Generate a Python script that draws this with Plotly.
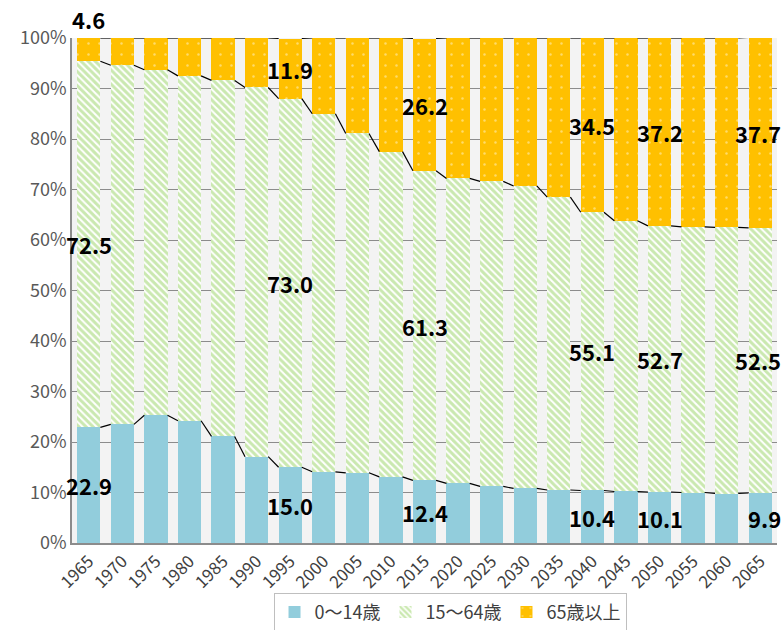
import plotly.graph_objects as go

years = ["1965", "1970", "1975", "1980", "1985", "1990", "1995", "2000", "2005", "2010",
         "2015", "2020", "2025", "2030", "2035", "2040", "2045", "2050", "2055", "2060", "2065"]
young = [22.9, 23.5, 25.3, 24.2, 21.1, 17.1, 15.0, 14.1, 13.9, 13.1,
         12.4, 11.8, 11.2, 10.8, 10.5, 10.4, 10.2, 10.1, 10.0, 9.8, 9.9]
working = [72.5, 71.1, 68.4, 68.3, 70.5, 73.1, 73.0, 70.9, 67.2, 64.4,
           61.3, 60.4, 60.4, 59.9, 58.0, 55.1, 53.6, 52.7, 52.6, 52.7, 52.5]
elderly = [4.6, 5.4, 6.3, 7.5, 8.4, 9.8, 11.9, 15.0, 18.9, 22.5,
           26.2, 27.8, 28.4, 29.3, 31.5, 34.5, 36.2, 37.2, 37.4, 37.5, 37.7]
series_names = ["0～14歳", "15～64歳", "65歳以上"]
labelled_years = ["1965", "1995", "2015", "2040", "2050", "2065"]

FONT = "Noto Sans CJK JP"
BAR_W = 0.69
xi = list(range(len(years)))

fig = go.Figure()
fig.add_trace(go.Bar(x=xi, y=young, name=series_names[0], width=BAR_W,
                     marker=dict(color="#92CDDC", line=dict(width=0))))
fig.add_trace(go.Bar(x=xi, y=working, name=series_names[1], width=BAR_W,
                     marker=dict(color="white", line=dict(width=0),
                                 pattern=dict(shape="\\", fgcolor="#96D262", bgcolor="white",
                                              size=5, solidity=0.6))))
fig.add_trace(go.Bar(x=xi, y=elderly, name=series_names[2], width=BAR_W,
                     marker=dict(color="#FFC000", line=dict(width=0),
                                 pattern=dict(shape=".", fgcolor="#FFF6D6", bgcolor="#FFC000",
                                              size=11, solidity=0.04))))

cum1 = young
cum2 = [a + b for a, b in zip(young, working)]
cum3 = [a + b + c for a, b, c in zip(young, working, elderly)]
for cum in (cum1, cum2, cum3):
    lx, ly = [], []
    for i in range(len(years) - 1):
        lx += [i + BAR_W / 2, i + 1 - BAR_W / 2, None]
        ly += [cum[i], cum[i + 1], None]
    fig.add_trace(go.Scatter(x=lx, y=ly, mode="lines", line=dict(color="black", width=1.2),
                             showlegend=False, hoverinfo="skip", cliponaxis=False))

lab_font = dict(family=FONT, size=22, color="black")
last = len(years) - 1
for yr in labelled_years:
    i = years.index(yr)
    kw = dict(showarrow=False, font=lab_font)
    if i == last:
        kw.update(x=i + 0.5, xanchor="right", xshift=6)
    else:
        kw.update(x=i, xanchor="center")
    fig.add_annotation(y=young[i] / 2, text=f"<b>{young[i]:.1f}</b>", **kw)
    fig.add_annotation(y=young[i] + working[i] / 2, text=f"<b>{working[i]:.1f}</b>", **kw)
    if yr == "1965":
        fig.add_annotation(y=100, yanchor="bottom", yshift=1,
                           text=f"<b>{elderly[i]:.1f}</b>", **kw)
    else:
        fig.add_annotation(y=cum2[i] + elderly[i] / 2, text=f"<b>{elderly[i]:.1f}</b>", **kw)

fig.update_layout(
    barmode="stack",
    width=784, height=630,
    margin=dict(l=72, r=7, t=38, b=87),
    paper_bgcolor="white", plot_bgcolor="#F3F3F3",
    font=dict(family=FONT, color="#404040"),
    legend=dict(orientation="h", x=0.574, xanchor="center", xref="container",
                y=0.028, yanchor="middle", yref="container",
                bordercolor="#BFBFBF", borderwidth=1, font=dict(size=18, color="#404040"),
                itemwidth=30, traceorder="normal"),
    xaxis=dict(tickmode="array", tickvals=xi, ticktext=years, tickangle=-45,
               range=[-0.5, len(years) - 0.5], showgrid=False, automargin=False,
               showline=True, linecolor="#8C8C8C", linewidth=1.5,
               tickfont=dict(size=17, color="#404040"), ticks=""),
    yaxis=dict(range=[0, 100], tickvals=list(range(0, 101, 10)),
               ticktext=[f"{v}%" for v in range(0, 101, 10)], automargin=False,
               showgrid=True, gridcolor="#8C8C8C", gridwidth=1.2,
               showline=True, linecolor="#8C8C8C", linewidth=1.5,
               tickfont=dict(size=18, color="#595959"), ticks="", zeroline=False),
)

fig.write_html("out.html", config={"displayModeBar": False},
               post_script="document.body.style.margin='0';")
